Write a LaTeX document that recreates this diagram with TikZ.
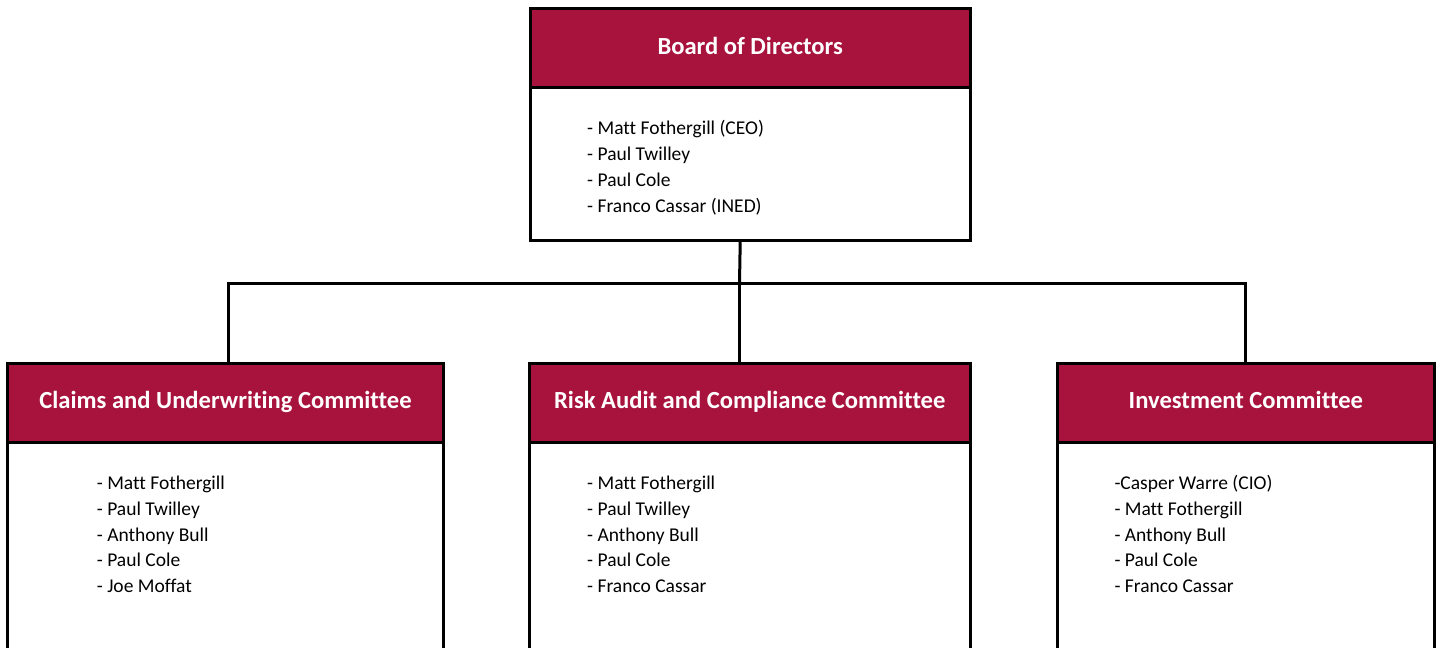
\documentclass[tikz,border=0pt]{standalone}
\usepackage{fontspec}
\setmainfont{Carlito}[Ligatures=NoCommon]
\definecolor{crimson}{RGB}{168,19,61}
\begin{document}
\begin{tikzpicture}[x=1pt,y=-1pt,
  boxline/.style={draw=black,line width=3pt,inner sep=0pt,outer sep=0pt},
  head/.style={boxline,fill=crimson,text=white,font=\fontsize{24.6}{28}\selectfont\bfseries,
    anchor=north west,minimum height=79pt,text height=15pt,text depth=2.8pt},
  body/.style={boxline,fill=white,anchor=north west},
  members/.style={anchor=base west,align=left,inner sep=0pt,font=\fontsize{19.5}{25.7}\selectfont},
  link/.style={draw=black,line width=3pt}]
\useasboundingbox (0,0) rectangle (1438,648);

% Board of Directors
\node[body,minimum width=440.5pt,minimum height=231.5pt] (boardB) at (530,8.5) {};
\node[head,minimum width=440.5pt] (boardH) at (530,8.5) {Board of Directors};
\node[members] (boardM) at (587,212) {- Matt Fothergill (CEO)\\- Paul Twilley\\- Paul Cole\\- Franco Cassar (INED)};

% Claims and Underwriting Committee
\node[body,minimum width=435.6pt,minimum height=320pt] (claimsB) at (7.7,363) {};
\node[head,minimum width=435.6pt] (claimsH) at (7.7,363) {Claims and Underwriting Committee};
\node[members] (claimsM) at (96.7,592.5) {- Matt Fothergill\\- Paul Twilley\\- Anthony Bull\\- Paul Cole\\- Joe Moffat};

% Risk Audit and Compliance Committee
\node[body,minimum width=441.5pt,minimum height=320pt] (riskB) at (529,363) {};
\node[head,minimum width=441.5pt] (riskH) at (529,363) {Risk Audit and Compliance Committee};
\node[members] (riskM) at (587,592.5) {- Matt Fothergill\\- Paul Twilley\\- Anthony Bull\\- Paul Cole\\- Franco Cassar};

% Investment Committee
\node[body,minimum width=377.7pt,minimum height=320pt] (invB) at (1057,363) {};
\node[head,minimum width=377.7pt] (invH) at (1057,363) {Investment Committee};
\node[members] (invM) at (1114.3,592.5) {-Casper Warre (CIO)\\- Matt Fothergill\\- Anthony Bull\\- Paul Cole\\- Franco Cassar};

% connectors
\coordinate (bus) at (739.5,283);
\draw[link] ([xshift=-10pt]boardB.south) -- (bus);
\draw[link] (bus) -- (bus |- riskH.north);
\draw[link] ([xshift=2.5pt]claimsH.north) |- (bus) -| (invH.north);
\end{tikzpicture}
\end{document}
